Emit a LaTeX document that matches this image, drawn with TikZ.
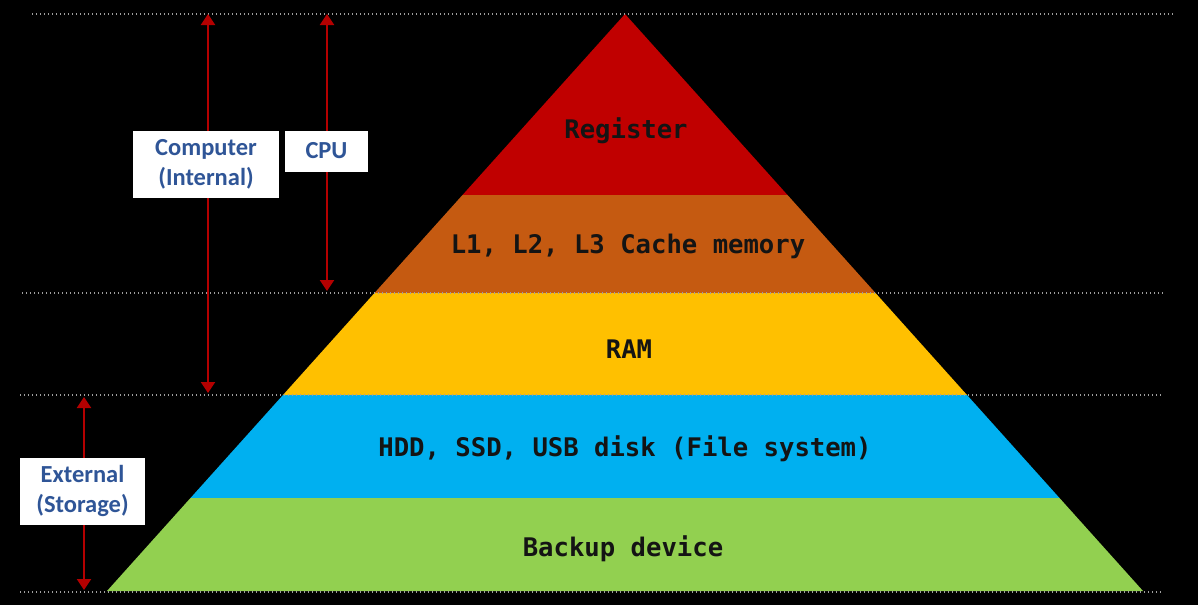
\documentclass[tikz,border=0pt]{standalone}
\usepackage{fontspec}
\setmonofont{DejaVu Sans Mono}
\newfontfamily\tagfont{Carlito}
\usepackage{xcolor}
\definecolor{regRed}    {HTML}{C00000}
\definecolor{cacheOrg}  {HTML}{C55A11}
\definecolor{ramYel}    {HTML}{FFC000}
\definecolor{diskBlue}  {HTML}{00B0F0}
\definecolor{backGreen} {HTML}{92D050}
\definecolor{spanRed}   {HTML}{B40000}
\definecolor{tagBlue}   {HTML}{2F5597}
\usetikzlibrary{arrows.meta, positioning, calc}
\tikzset{
    layertext/.style={font=\ttfamily\bfseries\fontsize{25.6}{30}\selectfont,
                      text=black!92},
    levelline/.style={gray!75, line width=1.3pt,
                      dash pattern=on 1.3pt off 2.7pt},
    span/.style={{Triangle[width=14pt,length=11pt]}-{Triangle[width=14pt,length=11pt]},
                 line width=2pt, spanRed},
    tagbox/.style={fill=white, text=tagBlue, align=center, inner sep=0pt,
                   font=\tagfont\bfseries\fontsize{24.5}{30}\selectfont},
}
\begin{document}
\begin{tikzpicture}[x=1pt, y=-1pt]
    \fill[black] (0,0) rectangle (1198,605);

    % pyramid layers
    \fill[regRed]    (625,14) -- (787.5,195) -- (462.5,195) -- cycle;
    \fill[cacheOrg]  (462.5,195) -- (787.5,195) -- (875.5,293) -- (374.5,293) -- cycle;
    \fill[ramYel]    (374.5,293) -- (875.5,293) -- (967,395) -- (283,395) -- cycle;
    \fill[diskBlue]  (283,395) -- (967,395) -- (1059.5,498) -- (190.5,498) -- cycle;
    \fill[backGreen] (190.5,498) -- (1059.5,498) -- (1143,591) -- (107,591) -- cycle;

    \node[layertext] (reg)    at (626,131) {Register};
    \node[layertext] (cache)  at (628,246) {L1, L2, L3 Cache memory};
    \node[layertext] (ram)    at (629,349) {RAM};
    \node[layertext] (disk)   at (625,449) {HDD, SSD, USB disk (File system)};
    \node[layertext] (backup) at (623,549) {Backup device};

    % level guides
    \draw[levelline] (32,14)  -- (1175,14);
    \draw[levelline] (22,293) -- (1165,293);
    \draw[levelline] (20,395) -- (1163,395);
    \draw[levelline] (20,592) -- (1163,592);

    % spans
    \coordinate (compTop) at (208,14);
    \coordinate (compBot) at (208,393);
    \coordinate (cpuTop)  at (327,14);
    \coordinate (cpuBot)  at (327,291);
    \coordinate (extTop)  at (84,397);
    \coordinate (extBot)  at (84,590);
    \draw[span] (compTop) -- (compBot);
    \draw[span] (cpuTop) -- (cpuBot);
    \draw[span] (extTop) -- (extBot);

    \node[tagbox, minimum width=146pt, minimum height=67pt] (comp) at (206,164)
        {Computer\\(Internal)};
    \node[tagbox, minimum width=83pt, minimum height=41pt] (cpu) at (326.5,151) {CPU};
    \node[tagbox, minimum width=125pt, minimum height=67pt] (ext) at (82.5,491)
        {External\\(Storage)};
\end{tikzpicture}
\end{document}
